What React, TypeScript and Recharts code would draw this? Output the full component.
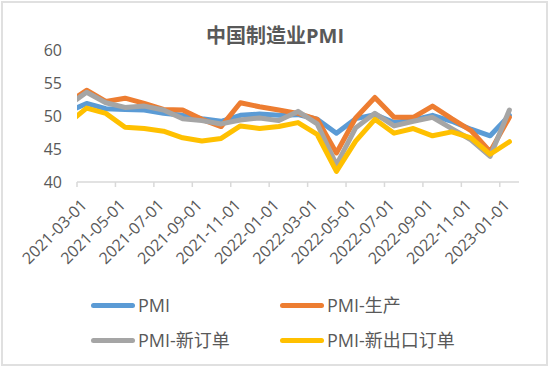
import React from 'react';
import { LineChart, Line, XAxis, YAxis } from 'recharts';

// 月度数据（2021-02 ~ 2023-01）
const months = [
  '2021-02', '2021-03', '2021-04', '2021-05', '2021-06', '2021-07', '2021-08', '2021-09',
  '2021-10', '2021-11', '2021-12', '2022-01', '2022-02', '2022-03', '2022-04', '2022-05',
  '2022-06', '2022-07', '2022-08', '2022-09', '2022-10', '2022-11', '2022-12', '2023-01',
];

const pmi = [50.6, 51.9, 51.1, 51.0, 50.9, 50.4, 50.1, 49.6, 49.2, 50.1, 50.3, 50.1, 50.2, 49.5, 47.4, 49.6, 50.2, 49.0, 49.4, 50.1, 49.2, 48.0, 47.0, 50.1];
const production = [51.9, 53.9, 52.2, 52.7, 51.9, 51.0, 50.9, 49.5, 48.4, 52.0, 51.4, 50.9, 50.4, 49.5, 44.4, 49.7, 52.8, 49.8, 49.8, 51.5, 49.6, 47.8, 44.6, 49.8];
const newOrders = [51.5, 53.6, 52.0, 51.3, 51.5, 50.9, 49.6, 49.3, 48.8, 49.4, 49.7, 49.3, 50.7, 48.8, 42.6, 48.2, 50.4, 48.5, 49.2, 49.8, 48.1, 46.4, 43.9, 50.9];
const newExportOrders = [48.8, 51.2, 50.4, 48.3, 48.1, 47.7, 46.7, 46.2, 46.6, 48.5, 48.1, 48.4, 49.0, 47.2, 41.6, 46.2, 49.5, 47.4, 48.1, 47.0, 47.6, 46.7, 44.2, 46.1];

const tickLabels = [
  '2021-03-01', '2021-05-01', '2021-07-01', '2021-09-01', '2021-11-01', '2022-01-01',
  '2022-03-01', '2022-05-01', '2022-07-01', '2022-09-01', '2022-11-01', '2023-01-01',
];
const yTicks = [40, 45, 50, 55, 60];

const series = [
  { key: 'pmi', name: 'PMI', color: '#5B9BD5' },
  { key: 'production', name: 'PMI-生产', color: '#ED7D31' },
  { key: 'newOrders', name: 'PMI-新订单', color: '#A5A5A5' },
  { key: 'newExportOrders', name: 'PMI-新出口订单', color: '#FFC000' },
];

// months since 2021-03-01, point sits mid-month (date axis)
const monthPos = (m: string) => {
  const [y, mo] = m.split('-').map(Number);
  return (y - 2021) * 12 + (mo - 3) + 0.5;
};
const labelPos = (s: string) => monthPos(s.slice(0, 7)) - 0.5;

const data = months.map((m, i) => ({
  month: m,
  x: monthPos(m),
  pmi: pmi[i],
  production: production[i],
  newOrders: newOrders[i],
  newExportOrders: newExportOrders[i],
}));

const FONT = '"Open Sans", "Noto Sans CJK SC", sans-serif';
const TEXT = '#595959';

const XTick = (props: any) => {
  const { x, y, payload } = props;
  const idx = tickLabels.findIndex((t) => labelPos(t) === payload.value);
  const tx = x + 11;
  const ty = y + 17;
  return (
    <text x={tx} y={ty} transform={`rotate(-45, ${tx}, ${ty})`} textAnchor="end"
      fontSize={16} fill={TEXT} fontFamily={FONT}>
      {idx >= 0 ? tickLabels[idx] : ''}
    </text>
  );
};

const App = () => {
  return (
    <div style={{ position: 'absolute', left: 0, top: 0, width: 550, height: 369, background: '#fff', fontFamily: FONT }}>
      <div style={{ position: 'absolute', left: 1, top: 1, width: 547, height: 365, border: '2px solid #e0e0e0', boxSizing: 'border-box' }} />
      <div style={{ position: 'absolute', left: 0, top: 23, width: 550, textAlign: 'center', fontSize: 20, fontWeight: 'bold', color: TEXT, lineHeight: '26px' }}>
        中国制造业PMI
      </div>
      <LineChart width={550} height={369} data={data} margin={{ top: 50, right: 31, bottom: 0, left: 0 }}>
        <XAxis
          dataKey="x"
          type="number"
          domain={[0, 23]}
          allowDataOverflow
          ticks={tickLabels.map(labelPos)}
          interval={0}
          height={187}
          tickSize={5}
          tickMargin={2}
          axisLine={{ stroke: '#d9d9d9', strokeWidth: 1.5 }}
          tickLine={{ stroke: '#d9d9d9', strokeWidth: 1.5 }}
          tick={<XTick />}
        />
        <YAxis
          domain={[40, 60]}
          ticks={yTicks}
          width={77}
          axisLine={false}
          tickLine={false}
          tickMargin={9}
          tick={{ fontSize: 16, fill: TEXT, fontFamily: FONT }}
        />
        {series.map((s) => (
          <Line
            key={s.key}
            dataKey={s.key}
            name={s.name}
            stroke={s.color}
            strokeWidth={5}
            strokeLinejoin="round"
            strokeLinecap="round"
            dot={false}
            activeDot={false}
            isAnimationActive={false}
          />
        ))}
      </LineChart>
      {series.map((s, i) => {
        const col = i % 2;
        const row = Math.floor(i / 2);
        const left = col === 0 ? 91 : 280;
        const top = row === 0 ? 305 : 340;
        return (
          <div key={s.key} style={{ position: 'absolute', left, top: top - 12, height: 24, display: 'flex', alignItems: 'center' }}>
            <div style={{ width: 44, height: 5, borderRadius: 3, background: s.color, marginRight: 3 }} />
            <span style={{ fontSize: 18, color: TEXT, lineHeight: '24px' }}>{s.name}</span>
          </div>
        );
      })}
    </div>
  );
};

export default App;
